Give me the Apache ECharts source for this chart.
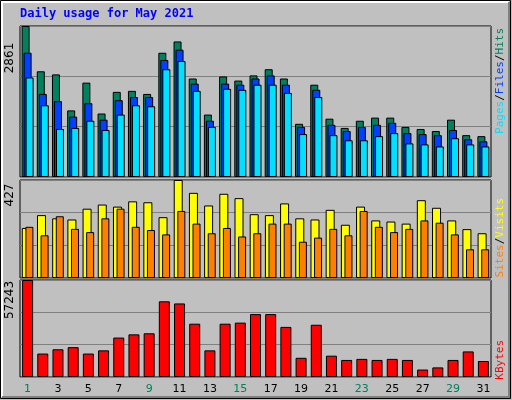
<!DOCTYPE html>
<html><head><meta charset="utf-8">
<script src="https://cdn.jsdelivr.net/npm/echarts@6/dist/echarts.min.js"></script>
<style>html,body{margin:0;padding:0;background:#c0c0c0}#c{width:512px;height:400px}</style>
</head><body><div id="c"></div>
<script>
const days = Array.from({length:31},(_,i)=>String(i+1));
const weekendDays = ['1','2','8','9','15','16','22','23','29','30'];
const hits  = [2861,2003,1944,1262,1788,1203,1613,1632,1574,2354,2568,1866,1183,1905,1827,1925,2042,1866,1008,1749,1105,930,1066,1125,1125,949,910,871,1086,793,774];
const files = [2354,1574,1437,1144,1398,1086,1456,1515,1515,2217,2412,1769,1066,1769,1749,1866,1925,1749,949,1652,988,871,949,988,1027,832,813,793,891,715,676];
const pages = [1886,1359,910,930,1066,891,1183,1359,1340,2042,2198,1632,949,1671,1652,1749,1749,1593,813,1515,793,696,696,774,832,637,618,579,735,618,579];
const sites = [218,274,260,255,302,320,311,334,330,265,427,371,316,367,348,278,274,325,260,255,297,232,311,251,246,237,339,306,251,213,195];
const visits= [223,186,269,214,200,260,302,223,209,190,292,237,195,218,181,195,237,237,158,176,214,186,292,223,200,214,251,241,190,125,125];
const kbytes= [57243,13840,16357,17614,13840,15727,23277,25164,25793,44666,43408,31455,15727,31455,32084,37117,37117,29568,11324,30826,12582,10066,10695,10066,10695,10066,4404,5662,10066,15098,9437];
const axisMax = [2861,427,57243];
const title = 'Daily usage for May 2021';

const mono = 'DejaVu Sans Mono';
const grids = [
  {left:20,right:21,top:26,height:151},
  {left:20,right:21,top:180,height:98},
  {left:20,right:21,top:280,height:97}
].map(g=>Object.assign(g,{show:true,backgroundColor:'#c0c0c0',borderColor:'#000',borderWidth:1}));
const xAxes = [0,1,2].map(i=>({type:'category',gridIndex:i,data:days,
  axisLine:{show:false},axisTick:{show:false},
  axisLabel:i===2?{show:true,fontFamily:'DejaVu Sans',fontSize:11,margin:7,
     color:(v)=>weekendDays.includes(v)?'#00805c':'#000'}:{show:false}}));
const yAxes = [0,1,2].map(i=>({type:'value',gridIndex:i,min:0,max:axisMax[i],interval:axisMax[i]/3,
  axisLine:{show:false},axisTick:{show:false},axisLabel:{show:false},
  splitLine:{lineStyle:{color:'#808080',width:1}}}));
const bs = (name,data,color,xi,w,gap)=>({name,type:'bar',xAxisIndex:xi,yAxisIndex:xi,data,barWidth:w,barGap:gap,
  itemStyle:{color,borderColor:'#000',borderWidth:1},animation:false});
const chart = echarts.init(document.getElementById('c'));
chart.setOption({
  backgroundColor:'#c0c0c0',animation:false,
  grid:grids,xAxis:xAxes,yAxis:yAxes,
  series:[
    bs('Hits',hits,'#00805c',0,8,'-75%'),
    bs('Files',files,'#0040ff',0,8,'-75%'),
    bs('Pages',pages,'#00e0ff',0,8,'-75%'),
    bs('Sites',sites,'#ffff00',1,9,'-60%'),
    bs('Visits',visits,'#ff8000',1,8,'-60%'),
    bs('KBytes',kbytes,'#ff0000',2,11,'0%')
  ],
  graphic:[
    {type:'rect',shape:{x:0.5,y:0.5,width:510,height:398},style:{fill:'none',stroke:'#000',lineWidth:1},silent:true},
    {type:'polyline',shape:{points:[[2,397],[2,2],[509,2]]},style:{stroke:'#fff',lineWidth:2,fill:'none'}},
    {type:'polyline',shape:{points:[[2,397],[509,397],[509,2]]},style:{stroke:'#808080',lineWidth:2,fill:'none'}},
    {type:'text',left:20,top:8,style:{text:title,fill:'#0000ff',font:'bold 12px '+mono}},
    {type:'text',x:10,y:58,rotation:Math.PI/2,style:{text:String(axisMax[0]),fill:'#000',font:'12px DejaVu Sans',align:'center',verticalAlign:'middle'}},
    {type:'text',x:10,y:195,rotation:Math.PI/2,style:{text:String(axisMax[1]),fill:'#000',font:'12px DejaVu Sans',align:'center',verticalAlign:'middle'}},
    {type:'text',x:10,y:300,rotation:Math.PI/2,style:{text:String(axisMax[2]),fill:'#000',font:'12px DejaVu Sans',align:'center',verticalAlign:'middle'}},
    {type:'text',x:500,y:28,rotation:Math.PI/2,style:{align:'right',verticalAlign:'middle',font:'11px '+mono,
      text:'{p|Pages}{s|/}{f|Files}{s|/}{h|Hits}',
      rich:{p:{fill:'#00e0ff',font:'11px '+mono},f:{fill:'#0040ff',font:'11px '+mono},h:{fill:'#00805c',font:'11px '+mono},s:{fill:'#000',font:'11px '+mono}}}},
    {type:'text',x:500,y:198,rotation:Math.PI/2,style:{align:'right',verticalAlign:'middle',font:'11px '+mono,
      text:'{a|Sites}{s|/}{b|Visits}',
      rich:{a:{fill:'#ff8000',font:'11px '+mono},b:{fill:'#ffff00',font:'11px '+mono},s:{fill:'#000',font:'11px '+mono}}}},
    {type:'text',x:500,y:340,rotation:Math.PI/2,style:{align:'right',verticalAlign:'middle',text:'KBytes',fill:'#ff0000',font:'11px '+mono}}
  ]
});
</script></body></html>
